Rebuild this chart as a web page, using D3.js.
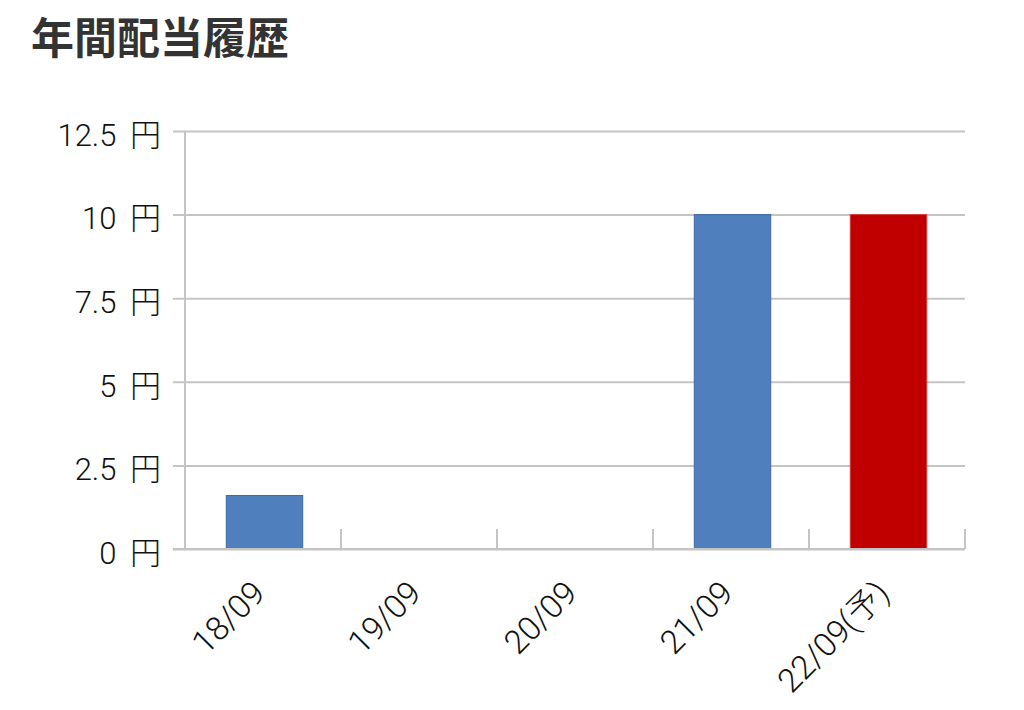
<!DOCTYPE html>
<html>
<head>
<meta charset="utf-8">
<script src="https://cdn.jsdelivr.net/npm/d3@7"></script>
<style>
  html, body { margin: 0; padding: 0; background: #fff; }
  svg { display: block; }
</style>
</head>
<body>
<svg id="chart" width="1024" height="710"></svg>
<script>
const title = "年間配当履歴";
const categories = ["18/09", "19/09", "20/09", "21/09", "22/09(予)"];
const dividends = [1.6, 0, 0, 10, 10];
const forecast = [false, false, false, false, true];
const yTicks = [0, 2.5, 5, 7.5, 10, 12.5];
const yUnit = "円";

const W = 1024, H = 710;
const margin = { left: 185, right: 59, top: 131, bottom: 161 };
const svg = d3.select("#chart");
const font = "'Noto Sans CJK JP', sans-serif";
const numFont = "Roboto, 'Noto Sans CJK JP', sans-serif";

svg.append("text")
  .attr("x", 31).attr("y", 54)
  .attr("font-family", font)
  .attr("font-weight", 700)
  .attr("font-size", 43)
  .attr("fill", "#333")
  .text(title);

const x = d3.scaleBand().domain(categories)
  .range([margin.left, W - margin.right]).paddingInner(0.51).paddingOuter(0.255);
const xBound = d3.scaleBand().domain(categories)
  .range([margin.left, W - margin.right]);
const y = d3.scaleLinear().domain([0, 12.5])
  .range([H - margin.bottom, margin.top]);

// gridlines + y ticks
const yAxis = d3.axisLeft(y).tickValues(yTicks)
  .tickSize(-(W - margin.right - margin.left + 12))
  .tickPadding(12)
  .tickFormat(d => d3.format("")(d));
const gy = svg.append("g")
  .attr("transform", `translate(${margin.left - 12},0)`)
  .call(yAxis);
gy.select(".domain").remove();
gy.selectAll(".tick line").attr("stroke", "#c4c4c4").attr("stroke-width", 2);
gy.selectAll(".tick text")
  .attr("font-family", numFont).attr("font-weight", 300)
  .attr("font-size", 31).attr("fill", "#111")
  .attr("dy", "0.46em")
  .each(function(d) {
    const t = d3.select(this);
    const label = t.text();
    t.text(null);
    t.append("tspan").text(label + " ");
    t.append("tspan").attr("dx", 6).attr("font-family", font).text(yUnit);
  });

// vertical axis line
svg.append("line")
  .attr("x1", margin.left).attr("x2", margin.left)
  .attr("y1", y(12.5)).attr("y2", y(0))
  .attr("stroke", "#c4c4c4").attr("stroke-width", 2);

// bars
svg.append("g").selectAll("rect")
  .data(categories)
  .join("rect")
  .attr("x", d => x(d) + 1.5)
  .attr("width", x.bandwidth())
  .attr("y", (d, i) => y(dividends[i]))
  .attr("height", (d, i) => y(0) - y(dividends[i]))
  .attr("fill", (d, i) => forecast[i] ? "#c00000" : "#4f7fbc")
  .attr("stroke", (d, i) => forecast[i] ? "#d83c3c" : "#3b6aa8")
  .attr("stroke-width", 1);

// x axis
svg.append("line")
  .attr("x1", margin.left - 12).attr("x2", W - margin.right)
  .attr("y1", y(0)).attr("y2", y(0))
  .attr("stroke", "#c4c4c4").attr("stroke-width", 2);
// category boundary ticks
svg.append("g").selectAll("line")
  .data(categories)
  .join("line")
  .attr("x1", d => xBound(d) + xBound.bandwidth())
  .attr("x2", d => xBound(d) + xBound.bandwidth())
  .attr("y1", y(0)).attr("y2", y(0) - 20)
  .attr("stroke", "#c4c4c4").attr("stroke-width", 2);

// x labels
svg.append("g").selectAll("text")
  .data(categories)
  .join("text")
  .attr("transform", d => `translate(${xBound(d) + xBound.bandwidth() / 2 + 4},${y(0) + 46}) rotate(-45)`)
  .attr("text-anchor", "end")
  .attr("font-family", numFont).attr("font-weight", 300)
  .attr("font-size", 33).attr("fill", "#111")
  .text(d => d);
</script>
</body>
</html>
